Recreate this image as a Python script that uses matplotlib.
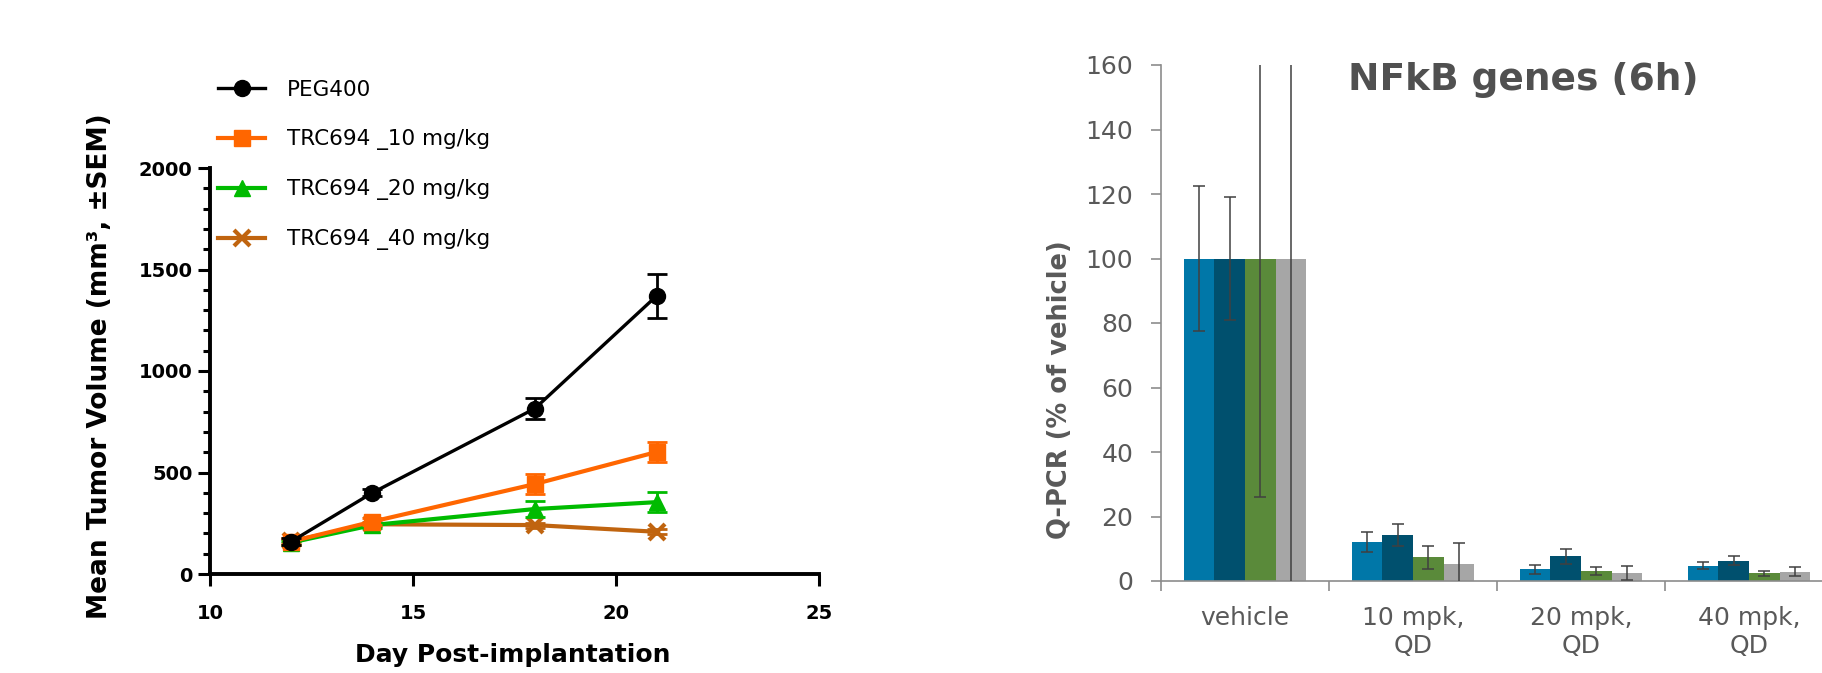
import numpy as np
import matplotlib.pyplot as plt

# left panel: tumor growth
days = [12, 14, 18, 21]
peg400 = [160, 400, 815, 1370]
peg400_sem = [15, 18, 50, 107]
trc10 = [160, 258, 443, 601]
trc10_sem = [15, 18, 50, 48]
trc20 = [155, 241, 320, 354]
trc20_sem = [10, 12, 40, 50]
trc40 = [162, 245, 241, 208]
trc40_sem = [10, 10, 12, 12]

# right panel: NFkB genes q-PCR
groups = ['vehicle', '10 mpk,\nQD', '20 mpk,\nQD', '40 mpk,\nQD']
gene1 = [100, 12.0, 3.6, 4.8]
gene1_err = [22.5, 3.1, 1.4, 1.2]
gene2 = [100, 14.3, 7.6, 6.3]
gene2_err = [19.0, 3.4, 2.3, 1.4]
gene3 = [100, 7.3, 3.2, 2.4]
gene3_err = [74.0, 3.6, 1.2, 0.8]
gene4 = [100, 5.4, 2.5, 2.9]
gene4_err = [105.0, 6.3, 2.1, 1.4]

W, H = 1822, 673
fig = plt.figure(figsize=(W / 100, H / 100), dpi=100)


def px(x0, y0, x1, y1):
    return [x0 / W, 1 - y1 / H, (x1 - x0) / W, (y1 - y0) / H]


# ---------------- left chart ----------------
ax1 = fig.add_axes(px(210, 168, 819, 574))
series = [
    ('PEG400', peg400, peg400_sem, '#000000', 'o', 2.4, 11.5),
    ('TRC694 _10 mg/kg', trc10, trc10_sem, '#ff6600', 's', 3.0, 11),
    ('TRC694 _20 mg/kg', trc20, trc20_sem, '#00bb00', '^', 3.0, 11.5),
    ('TRC694 _40 mg/kg', trc40, trc40_sem, '#c0640f', 'x', 3.0, 12),
]
handles = []
for i, (name, vals, sem, col, mk, lw, ms) in enumerate(series):
    z = 10 - i
    ax1.errorbar(days, vals, yerr=sem, fmt='none', ecolor=col, elinewidth=2,
                 capsize=7, capthick=2, zorder=z, clip_on=False)
    h, = ax1.plot(days, vals, color=col, lw=lw, marker=mk, ms=ms,
                  mew=3 if mk == 'x' else 1, mec=col, label=name, zorder=z,
                  clip_on=False)
    handles.append(h)

ax1.set_xlim(10, 25)
ax1.set_ylim(0, 2000)
ax1.set_xticks([10, 15, 20, 25])
ax1.set_yticks([0, 500, 1000, 1500, 2000])
ax1.set_yticks(np.arange(0, 2001, 100), minor=True)
for s in ['top', 'right']:
    ax1.spines[s].set_visible(False)
for s in ['left', 'bottom']:
    ax1.spines[s].set_linewidth(2.8)
ax1.tick_params(which='major', length=8.5, width=2.2, labelsize=14, pad=4)
ax1.tick_params(which='minor', length=5, width=2.2)
ax1.tick_params(axis='x', which='minor', length=0)
ax1.tick_params(axis='x', pad=13)
for lab in ax1.get_xticklabels() + ax1.get_yticklabels():
    lab.set_fontweight('bold')

ax1.legend(handles=handles, loc='upper left', bbox_to_anchor=(218 / W, 1 - 80 / H),
           bbox_transform=fig.transFigure, frameon=False, borderaxespad=0,
           borderpad=0, handlelength=2.2, handletextpad=1.0, labelspacing=1.35,
           numpoints=1, prop={'size': 15.5})

fig.text(100 / W, 1 - 366 / H, 'Mean Tumor Volume (mm³, ±SEM)', rotation=90,
         ha='center', va='center', fontsize=19, fontweight='bold')
fig.text(513 / W, 1 - 655 / H, 'Day Post-implantation', ha='center',
         va='center', fontsize=18, fontweight='bold')

# ---------------- right chart ----------------
ax2 = fig.add_axes(px(1161, 65, 1833, 581))
grey = '#595959'
bar_colors = ['#0077a8', '#00506e', '#5a8a3a', '#a6a6a6']
bar_vals = [gene1, gene2, gene3, gene4]
bar_errs = [gene1_err, gene2_err, gene3_err, gene4_err]
centers = np.arange(len(groups)) + 0.5
bw = 0.183
for j in range(4):
    xpos = centers + (j - 1.5) * bw
    ax2.bar(xpos, bar_vals[j], width=bw, color=bar_colors[j], zorder=2)
    ax2.errorbar(xpos, bar_vals[j], yerr=bar_errs[j], fmt='none',
                 ecolor='#404040', elinewidth=1.1, capsize=4.3, capthick=1.1,
                 zorder=3)

ax2.set_xlim(0, 4)
ax2.set_ylim(0, 160)
ax2.set_yticks(np.arange(0, 161, 20))
ax2.set_xticks(centers)
ax2.set_xticklabels(groups)
ax2.set_xticks(np.arange(0, 5), minor=True)
for s in ['top', 'right']:
    ax2.spines[s].set_visible(False)
for s in ['left', 'bottom']:
    ax2.spines[s].set_color('#8c8c8c')
    ax2.spines[s].set_linewidth(1.2)
ax2.tick_params(axis='y', length=7, width=1.2, color='#8c8c8c', pad=13,
                labelsize=18, labelcolor=grey)
ax2.tick_params(axis='x', which='major', length=0, pad=18, labelsize=18,
                labelcolor=grey)
ax2.tick_params(axis='x', which='minor', length=7, width=1.2, color='#8c8c8c')

fig.text(1060 / W, 1 - 390 / H, 'Q-PCR (% of vehicle)', rotation=90,
         ha='center', va='center', fontsize=18.5, fontweight='bold', color=grey)
fig.text(1348 / W, 1 - 80 / H, 'NFkB genes (6h)', ha='left', va='center',
         fontsize=27, fontweight='bold', color='#505050')

fig.savefig('out.png', dpi=100)
